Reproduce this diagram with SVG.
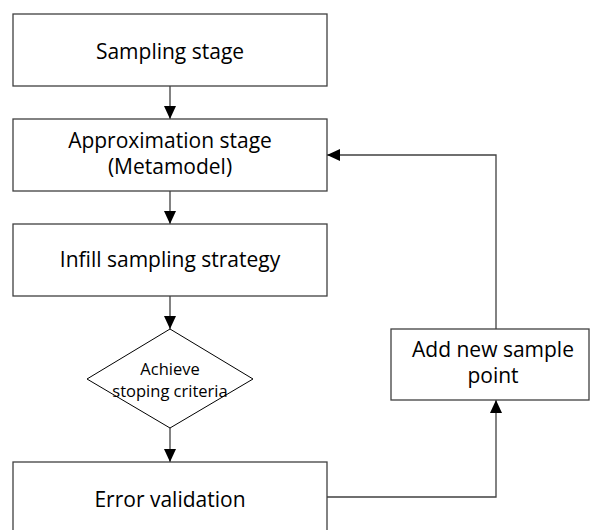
<svg xmlns="http://www.w3.org/2000/svg" width="590" height="530" viewBox="0 0 590 530">
<style>
.box{fill:#fff;stroke:#404040;stroke-width:1.3}
.dia{fill:#fff;stroke:#000;stroke-width:1}
.t{font-family:"Open Sans","Noto Sans",sans-serif;font-size:21px;fill:#000;text-anchor:middle}
.ts{font-family:"Open Sans","Noto Sans",sans-serif;font-size:16.5px;fill:#000;text-anchor:middle}
.c{fill:none;stroke:#404040;stroke-width:1.3}
.ah{fill:#000}
</style>
<g id="connectors">
<path class="c" d="M170,86 V119"/>
<polygon class="ah" points="164,106 176,106 170,119"/>
<path class="c" d="M170,191 V224"/>
<polygon class="ah" points="164,211 176,211 170,224"/>
<path class="c" d="M170,296 V329"/>
<polygon class="ah" points="164,316 176,316 170,329"/>
<path class="c" d="M170,428 V462"/>
<polygon class="ah" points="164,449 176,449 170,462"/>
<path class="c" d="M327,497 H496 V400"/>
<polygon class="ah" points="490,413 502,413 496,400"/>
<path class="c" d="M496,329 V155 H327"/>
<polygon class="ah" points="340,149 340,161 327,155"/>
</g>
<g id="n1"><rect class="box" x="13" y="14" width="314" height="72"/><text class="t" x="170" y="59">Sampling stage</text></g>
<g id="n2"><rect class="box" x="13" y="119" width="314" height="72"/><text class="t" x="170" y="148">Approximation stage</text><text class="t" x="170" y="174">(Metamodel)</text></g>
<g id="n3"><rect class="box" x="13" y="224" width="314" height="72"/><text class="t" x="170" y="267">Infill sampling strategy</text></g>
<g id="n4"><polygon class="dia" points="170,329 253,379 170,428 87,379"/><text class="ts" x="170" y="375">Achieve</text><text class="ts" x="170" y="397">stoping criteria</text></g>
<g id="n5"><rect class="box" x="13" y="462" width="314" height="80"/><text class="t" x="170" y="507">Error validation</text></g>
<g id="n6"><rect class="box" x="391" y="329" width="198" height="71"/><text class="t" x="493" y="357">Add new sample</text><text class="t" x="493" y="383">point</text></g>
</svg>
